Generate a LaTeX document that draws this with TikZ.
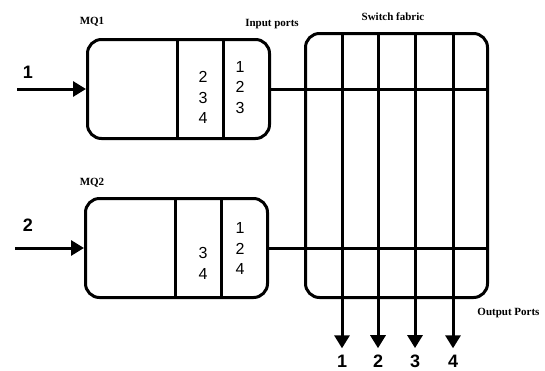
\documentclass[tikz,border=0pt]{standalone}
\usepackage{fontspec}
\setmainfont{Liberation Serif}
\setsansfont{Liberation Sans}
\usetikzlibrary{arrows.meta}

\begin{document}
\begin{tikzpicture}[>={Triangle[length=13pt, width=15pt]}, x=1pt, y=-1pt, line width=3pt,
    box/.style={draw, rounded corners=14pt, inner sep=0pt},
    title/.style={font=\bfseries\fontsize{11}{13}\selectfont},
    portnum/.style={font=\sffamily\bfseries\fontsize{18}{20}\selectfont, inner sep=1pt},
    queuenum/.style={font=\sffamily\fontsize{16}{20.5}\selectfont, align=center, inner sep=0pt}]

    \useasboundingbox (0,0) rectangle (545,370);

    % Queues
    \node[box, minimum width=182pt, minimum height=99pt] (mq1) at (178.5,89) {};
    \node[box, minimum width=182pt, minimum height=99pt] (mq2) at (176.5,248) {};
    \foreach \q in {mq1, mq2} {
        \draw ([xshift=91pt]\q.north west) -- ([xshift=91pt]\q.south west);
        \draw ([xshift=137pt]\q.north west) -- ([xshift=137pt]\q.south west);
    }
    \node[title] (mq1title) at (92,22) {MQ1};
    \node[title] (mq2title) at (92,183) {MQ2};
    \node[title] (inports) at (272,24) {Input ports};

    \node[queuenum] (mq1wait) at (203,97.5) {2\\3\\4};
    \node[queuenum] (mq1port) at (240,87.5) {1\\2\\3};
    \node[queuenum] (mq2wait) at (203,263.5) {3\\4};
    \node[queuenum] (mq2port) at (240,248.5) {1\\2\\4};

    % Inputs
    \coordinate (in1) at (17,89);
    \coordinate (in2) at (15,248);
    \node[portnum] (in1num) at (28,72) {1};
    \node[portnum] (in2num) at (28,225) {2};
    \draw[->] (in1) -- (mq1.west);
    \draw[->] (in2) -- (mq2.west);

    % Switch fabric
    \node[box, minimum width=182pt, minimum height=264pt] (fabric) at (396.5,165.5) {};
    \node[title] (fabrictitle) at (393,17) {Switch fabric};
    \draw (mq1.east) -- (mq1.east -| fabric.east);
    \draw (mq2.east) -- (mq2.east -| fabric.east);

    % Outputs
    \foreach \i/\x in {1/342, 2/378, 3/415, 4/453} {
        \node[portnum] (out\i) at (\x,361) {\i};
        \draw[->, shorten >=4pt] (fabric.north -| out\i) -- (out\i.north);
    }
    \node[title] (outports) at (508.5,313) {Output Ports};

\end{tikzpicture}
\end{document}
